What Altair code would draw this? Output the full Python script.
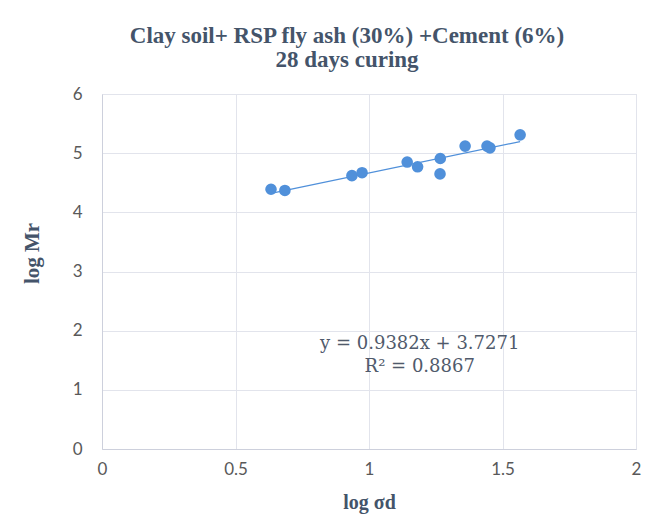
import altair as alt
import pandas as pd

log_sd = [0.633, 0.685, 0.936, 0.974, 1.143, 1.182, 1.267, 1.266, 1.360, 1.442, 1.453, 1.566]
log_mr = [4.39, 4.37, 4.62, 4.67, 4.85, 4.77, 4.91, 4.65, 5.12, 5.12, 5.09, 5.31]
slope = 0.9382
intercept = 3.7271
eq_lines = ["y = 0.9382x + 3.7271", "R² = 0.8867"]
eq_x = [1.19, 1.19]
eq_y = [1.77, 1.38]

df = pd.DataFrame({"x": log_sd, "y": log_mr})
trend = pd.DataFrame({"x": [min(log_sd), max(log_sd)]})
ann = pd.DataFrame({"x": eq_x, "y": eq_y, "t": eq_lines})

blue = "#5090DA"
xs = alt.Scale(domain=[0, 2], nice=False)
ys = alt.Scale(domain=[0, 6], nice=False)

x_axis = alt.Axis(values=[0, 0.5, 1, 1.5, 2], title="log σd", labelFont="Lato", format="~g",
                  labelFontSize=17, labelColor="#595959", ticks=False, labelPadding=12,
                  gridColor="#E2E4EC", domainColor="#CDD0DC",
                  titleFont="Liberation Serif", titleFontSize=20, titleFontWeight="bold",
                  titleColor="#44546A", titlePadding=15, labelFlush=False)
y_axis = alt.Axis(values=[0, 1, 2, 3, 4, 5, 6], title="log Mr", labelFont="Lato", format="~g",
                  labelFontSize=17, labelColor="#595959", ticks=False, labelPadding=20,
                  gridColor="#E2E4EC", domainColor="#CDD0DC",
                  titleFont="Liberation Serif", titleFontSize=21, titleFontWeight="bold",
                  titleColor="#44546A", titlePadding=30, titleY=159, labelFlush=False)

points = alt.Chart(df).mark_circle(size=135, color=blue, opacity=1).encode(
    x=alt.X("x:Q", scale=xs, axis=x_axis),
    y=alt.Y("y:Q", scale=ys, axis=y_axis),
)

line = alt.Chart(trend).transform_calculate(
    y=f"{slope}*datum.x + {intercept}"
).mark_line(color=blue, strokeWidth=1.3).encode(
    x=alt.X("x:Q", scale=xs),
    y=alt.Y("y:Q", scale=ys),
)

text = alt.Chart(ann).mark_text(font="DejaVu Serif", fontSize=18, color="#505A6B",
                                align="center", baseline="middle").encode(
    x=alt.X("x:Q", scale=xs),
    y=alt.Y("y:Q", scale=ys),
    text="t:N",
)

chart = alt.layer(line, points, text).properties(
    width=534, height=355,
    title=alt.Title(["Clay soil+ RSP fly ash (30%) +Cement (6%)", "28 days curing"],
                    font="Liberation Serif", fontSize=23, fontWeight="bold",
                    color="#44546A", lineHeight=24, offset=13, dx=-22, anchor="middle"),
    autosize=alt.AutoSizeParams(type="none"),
    padding={"left": 94, "top": 86, "right": 20, "bottom": 65},
).configure_view(stroke=None).configure(background="white")

chart.save("out.html", embed_options={"renderer": "svg", "actions": False})
